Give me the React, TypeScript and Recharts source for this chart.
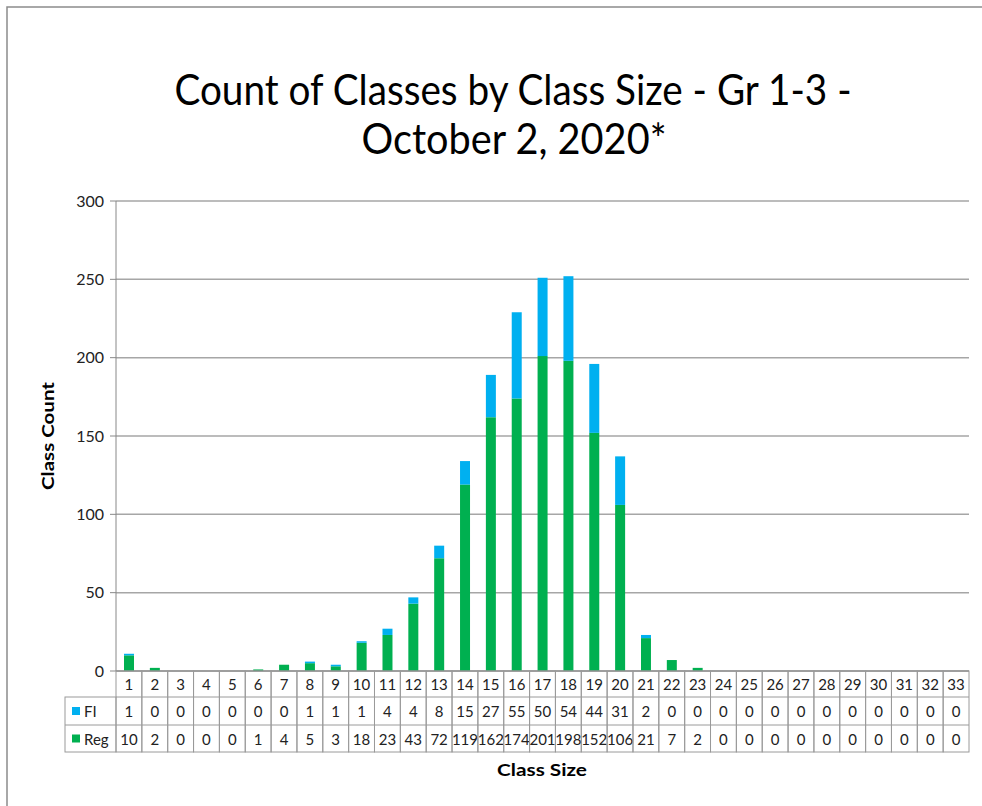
import { BarChart, Bar, XAxis, YAxis, CartesianGrid } from "recharts";

const classSizes = [
  "1", "2", "3", "4", "5", "6", "7", "8", "9", "10", "11",
  "12", "13", "14", "15", "16", "17", "18", "19", "20", "21", "22",
  "23", "24", "25", "26", "27", "28", "29", "30", "31", "32", "33",
];
const fiCounts = [
  1, 0, 0, 0, 0, 0, 0, 1, 1, 1, 4,
  4, 8, 15, 27, 55, 50, 54, 44, 31, 2, 0,
  0, 0, 0, 0, 0, 0, 0, 0, 0, 0, 0,
];
const regCounts = [
  10, 2, 0, 0, 0, 1, 4, 5, 3, 18, 23,
  43, 72, 119, 162, 174, 201, 198, 152, 106, 21, 7,
  2, 0, 0, 0, 0, 0, 0, 0, 0, 0, 0,
];
const yTicks = [0, 50, 100, 150, 200, 250, 300];

const data = classSizes.map((size, i) => ({ size, Reg: regCounts[i], FI: fiCounts[i] }));

const FONT = "Lato, 'Liberation Sans', sans-serif";
const GREEN = "#00B050";
const BLUE = "#00B0F0";
const LINE = "#9a9a9a";

// plot geometry (used for the data table under the axis)
const PLOT_LEFT = 116;
const PLOT_RIGHT = 969;
const PLOT_BOTTOM = 671;
const BAND = (PLOT_RIGHT - PLOT_LEFT) / classSizes.length;
const ROWS = [26, 28, 27];
const LEGEND_LEFT = 65;

function TableTick(props: any) {
  const { x, payload } = props;
  const i = classSizes.indexOf(String(payload.value));
  const left = x - BAND / 2;
  const y0 = PLOT_BOTTOM;
  const y1 = y0 + ROWS[0];
  const y2 = y1 + ROWS[1];
  const y3 = y2 + ROWS[2];
  const txt = { fontFamily: FONT, fontSize: 15, fill: "#222", textAnchor: "middle" as const, dominantBaseline: "central" as const };
  return (
    <g>
      <rect x={left} y={y0} width={BAND} height={y3 - y0} fill="none" stroke={LINE} />
      <line x1={left} x2={left + BAND} y1={y1} y2={y1} stroke={LINE} />
      <line x1={left} x2={left + BAND} y1={y2} y2={y2} stroke={LINE} />
      <text x={x} y={(y0 + y1) / 2} {...txt}>{payload.value}</text>
      <text x={x} y={(y1 + y2) / 2} {...txt}>{fiCounts[i]}</text>
      <text x={x} y={(y2 + y3) / 2} {...txt}>{regCounts[i]}</text>
      {i === 0 && (
        <g>
          <rect x={LEGEND_LEFT} y={y1} width={PLOT_LEFT - LEGEND_LEFT} height={y3 - y1} fill="none" stroke={LINE} />
          <line x1={LEGEND_LEFT} x2={PLOT_LEFT} y1={y2} y2={y2} stroke={LINE} />
          <rect x={72} y={(y1 + y2) / 2 - 4} width={8} height={8} fill={BLUE} />
          <text x={84} y={(y1 + y2) / 2} fontFamily={FONT} fontSize={15} fill="#222" dominantBaseline="central">FI</text>
          <rect x={72} y={(y2 + y3) / 2 - 4} width={8} height={8} fill={GREEN} />
          <text x={84} y={(y2 + y3) / 2} fontFamily={FONT} fontSize={15} fill="#222" dominantBaseline="central">Reg</text>
        </g>
      )}
    </g>
  );
}

export default function App() {
  return (
    <div style={{ position: "absolute", left: 0, top: 0, width: 982, height: 806, background: "#fff", overflow: "hidden" }}>
      <BarChart
        width={982}
        height={806}
        data={data}
        margin={{ top: 201, right: 13, bottom: 54, left: 0 }}
        barSize={10}
      >
        <CartesianGrid vertical={false} stroke="#a6a6a6" strokeWidth={1.5} />
        <XAxis
          dataKey="size"
          height={81}
          interval={0}
          tickLine={false}
          axisLine={{ stroke: "#888" }}
          tick={<TableTick />}
        />
        <YAxis
          width={116}
          domain={[0, 300]}
          ticks={yTicks}
          tickSize={6}
          axisLine={{ stroke: "#888" }}
          tickLine={{ stroke: "#888" }}
          tick={{ fontFamily: FONT, fontSize: 16, fill: "#222", dx: -4 }}
        />
        <Bar dataKey="Reg" stackId="a" fill={GREEN} isAnimationActive={false} />
        <Bar dataKey="FI" stackId="a" fill={BLUE} isAnimationActive={false} />
      </BarChart>
      <svg width={982} height={806} style={{ position: "absolute", left: 0, top: 0, pointerEvents: "none" }}>
        <path d="M7,806 L7,7 L982,7" fill="none" stroke="#8c8c8c" strokeWidth={1.5} />
        <text x={513} y={105} textAnchor="middle" fontFamily={FONT} fontSize={42} fill="#000"
          textLength={677} lengthAdjust="spacingAndGlyphs">
          Count of Classes by Class Size - Gr 1-3 -
        </text>
        <text x={514} y={154} textAnchor="middle" fontFamily={FONT} fontSize={42} fill="#000"
          textLength={305} lengthAdjust="spacingAndGlyphs">
          October 2, 2020*
        </text>
        <text x={0} y={0} transform="translate(47,436) rotate(-90)" textAnchor="middle" dominantBaseline="central"
          fontFamily={FONT} fontSize={17} fontWeight="bold" fill="#000" textLength={108} lengthAdjust="spacingAndGlyphs">
          Class Count
        </text>
        <text x={542} y={776} textAnchor="middle" fontFamily={FONT} fontSize={17} fontWeight="bold" fill="#000"
          textLength={90} lengthAdjust="spacingAndGlyphs">
          Class Size
        </text>
      </svg>
    </div>
  );
}
